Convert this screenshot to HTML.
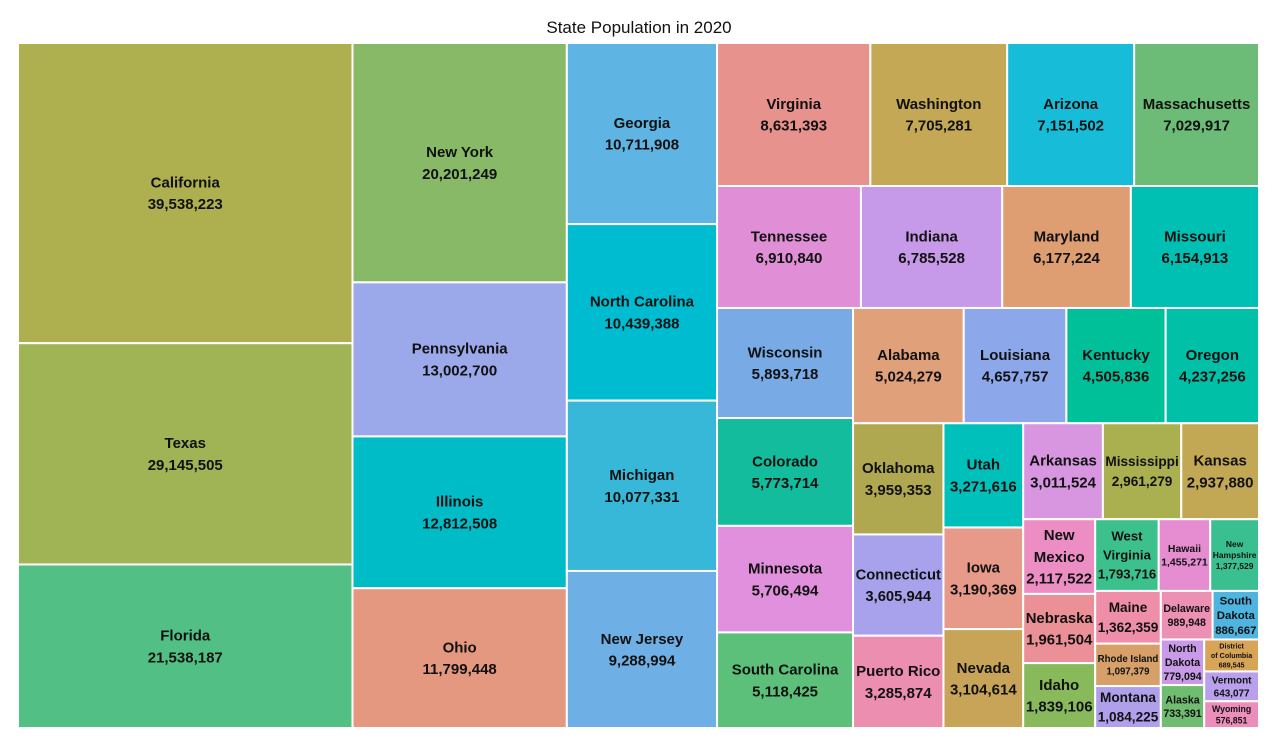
<!DOCTYPE html>
<html><head><meta charset="utf-8"><style>
html,body{margin:0;padding:0;background:#fff;}
svg{display:block;font-family:"Liberation Sans",Arial,sans-serif;}
</style></head><body>
<svg id="chart" width="1279" height="739" viewBox="0 0 1279 739">
<text x="639" y="33" text-anchor="middle" font-size="17" fill="#111">State Population in 2020</text>
<g id="tiles"></g>
</svg>
<script>
const states = ["California","Texas","Florida","New York","Pennsylvania","Illinois","Ohio","Georgia","North Carolina","Michigan","New Jersey","Virginia","Washington","Arizona","Massachusetts","Tennessee","Indiana","Maryland","Missouri","Wisconsin","Colorado","Minnesota","South Carolina","Alabama","Louisiana","Kentucky","Oregon","Oklahoma","Connecticut","Puerto Rico","Utah","Iowa","Nevada","Arkansas","Mississippi","Kansas","New Mexico","Nebraska","Idaho","West Virginia","Hawaii","New Hampshire","Maine","Rhode Island","Montana","Delaware","South Dakota","North Dakota","Alaska","District of Columbia","Vermont","Wyoming"];
const population = [39538223,29145505,21538187,20201249,13002700,12812508,11799448,10711908,10439388,10077331,9288994,8631393,7705281,7151502,7029917,6910840,6785528,6177224,6154913,5893718,5773714,5706494,5118425,5024279,4657757,4505836,4237256,3959353,3605944,3285874,3271616,3190369,3104614,3011524,2961279,2937880,2117522,1961504,1839106,1793716,1455271,1377529,1362359,1097379,1084225,989948,886667,779094,733391,689545,643077,576851];
const fills = ["#AEB04F","#A0B456","#52C084","#87B966","#9BA8EA","#00BCC6","#E59880","#5EB4E2","#00BCD0","#38B8D8","#6EB0E6","#E8928E","#C4A855","#17BDD8","#6CBC78","#E08ED6","#C69AE8","#DE9E72","#00C0B4","#78AAE6","#14BC9E","#E090DC","#5CC07A","#E0A07A","#8CA8EA","#00C09A","#00C0A8","#B0A850","#A8A2EC","#EC8EB0","#00C0BC","#E89A8A","#C8A458","#D896E0","#AAB050","#C2A854","#EC8EC4","#EC9098","#88BA5C","#3CC08C","#E58DD0","#3AC090","#EE8EA8","#D6A068","#B0A0EC","#EC90B4","#4EB4E0","#C89AE8","#70BC70","#D8A458","#B8A0EC","#EC8EBC"];

const X0=18,Y0=43,W=1241,H=685;
const g=document.getElementById('tiles');
const NS="http://www.w3.org/2000/svg";
const cv=document.createElement('canvas').getContext('2d');
cv.font='bold 100px "Liberation Sans", Arial, sans-serif';
function tw(s){return cv.measureText(s).width/100;}
function fmt(v){return v.toLocaleString('en-US');}

function firstRatio(row,side){
  const s=row.reduce((a,b)=>a+b.a,0);
  const t=s/side, l=row[0].a/t;
  return Math.max(t/l,l/t);
}
function squarify(items,x,y,w,h){
  const out=[];let i=0;
  while(i<items.length){
    const side=Math.min(w,h);
    let row=[items[i]];i++;
    while(i<items.length){
      const nr=row.concat([items[i]]);
      if(firstRatio(nr,side)<=firstRatio(row,side)){row=nr;i++;}else break;
    }
    const s=row.reduce((a,b)=>a+b.a,0);
    if(w>=h){
      const cw=s/h;let yy=y;
      row.forEach(r=>{const rh=r.a/cw;out.push({...r,x:x,y:yy,w:cw,h:rh});yy+=rh;});
      x+=cw;w-=cw;
    }else{
      const rh=s/w;let xx=x;
      row.forEach(r=>{const rw=r.a/rh;out.push({...r,x:xx,y:y,w:rw,h:rh});xx+=rw;});
      y+=rh;h-=rh;
    }
  }
  return out;
}
const total=population.reduce((a,b)=>a+b,0);
const items=states.map((s,i)=>({name:s,v:population[i],c:fills[i],a:population[i]/total*W*H}));
items.sort((a,b)=>b.v-a.v);
const rects=squarify(items,X0,Y0,W,H);

function fitSize(lines,w,h){
  const mw=Math.max(...lines.map(tw));
  return Math.min(15,(w-5)/mw,(h-4)/(lines.length*1.3));
}
rects.forEach(r=>{
  const rect=document.createElementNS(NS,'rect');
  
  
  rect.setAttribute('x',r.x);rect.setAttribute('y',r.y);
  rect.setAttribute('width',r.w);rect.setAttribute('height',r.h);
  rect.setAttribute('fill',r.c);rect.setAttribute('stroke','#fff');rect.setAttribute('stroke-width','2');
  g.appendChild(rect);
  const val=fmt(r.v);
  let best=[r.name,val],bf=fitSize(best,r.w,r.h);
  const words=r.name.split(' ');
  for(let k=1;k<words.length;k++){
    const ls=[words.slice(0,k).join(' '),words.slice(k).join(' '),val];
    const f=fitSize(ls,r.w,r.h);
    if(f>bf*1.08){bf=f;best=ls;}
  }
  const lh=bf>=13?bf*1.45:bf*1.3;
  const cx=r.x+r.w/2,cy=r.y+r.h/2;
  const t=document.createElementNS(NS,'text');
  
  
  t.setAttribute('text-anchor','middle');t.setAttribute('font-weight','bold');
  t.setAttribute('font-size',bf.toFixed(2));t.setAttribute('fill','#111');
  best.forEach((ln,j)=>{
    const sp=document.createElementNS(NS,'tspan');
    sp.setAttribute('x',cx);
    sp.setAttribute('y',cy+(j-(best.length-1)/2)*lh+bf*0.35);
    sp.textContent=ln;t.appendChild(sp);
  });
  g.appendChild(t);
});
</script>
</body></html>
